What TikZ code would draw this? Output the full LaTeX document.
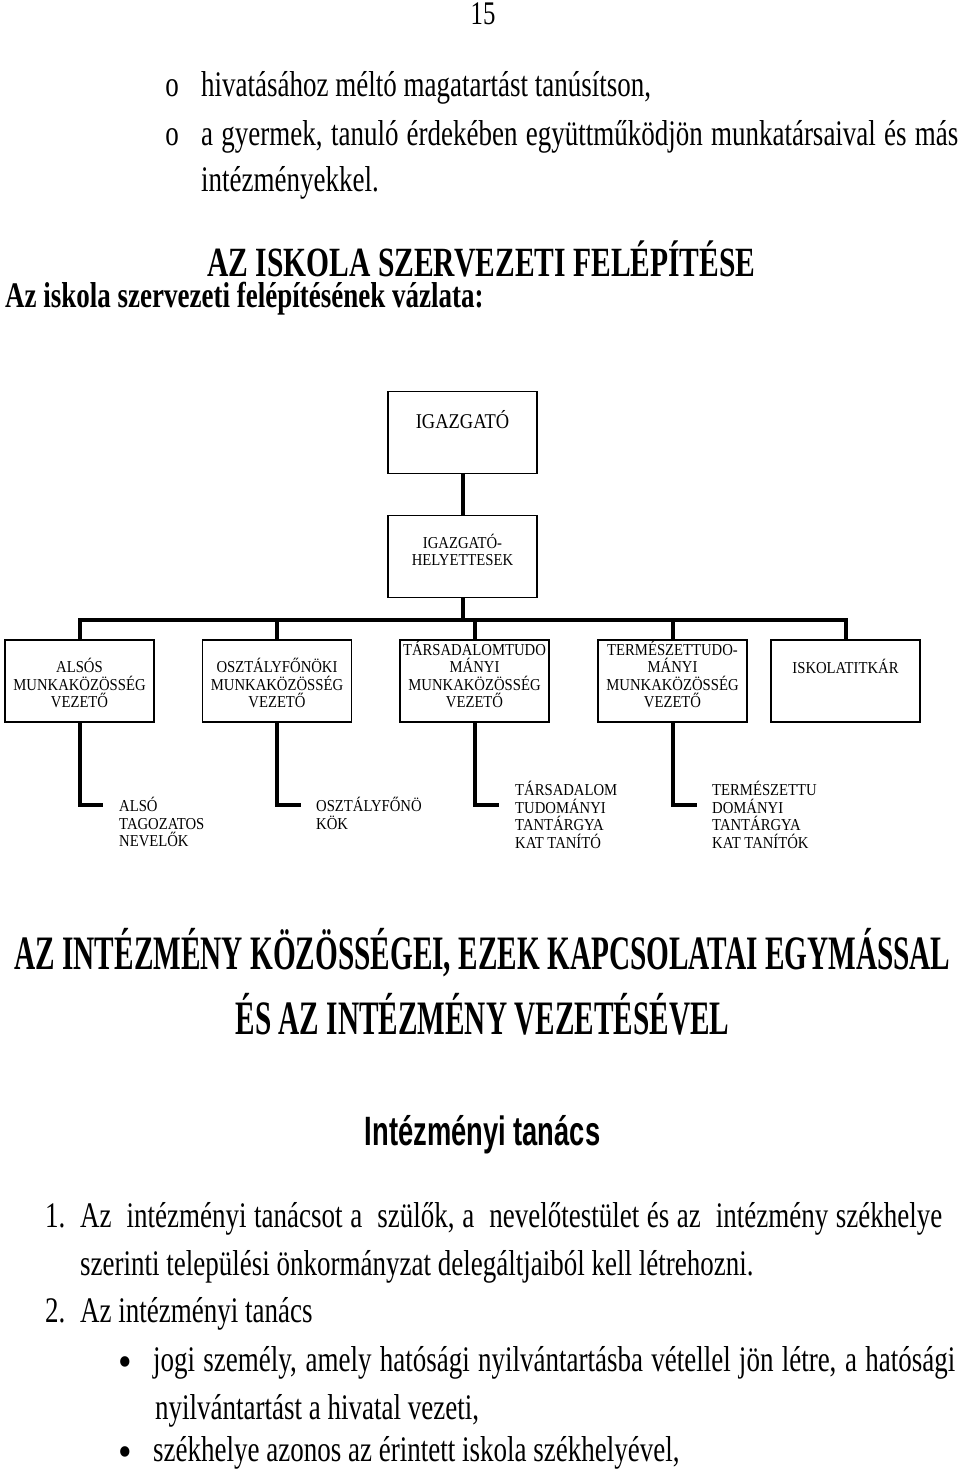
\documentclass[tikz,border=0pt]{standalone}
\usepackage{fontspec}
\setmainfont{Liberation Serif}
\newfontfamily\bodyfont[FakeStretch=0.75]{Liberation Serif}
\newfontfamily\chartfont[FakeStretch=0.88]{Liberation Serif}
\newfontfamily\headfontA[FakeStretch=0.71]{Liberation Serif}
\newfontfamily\headfontB[FakeStretch=0.61]{Liberation Serif}
\newfontfamily\tanacsfont[FakeStretch=0.667]{Liberation Sans}
\usepackage{tikz}
\usetikzlibrary{positioning, calc}

\begin{document}
\begin{tikzpicture}[x=1pt, y=-1pt,
  box/.style={draw, line width=1.5pt, minimum width=149pt, minimum height=82pt, inner sep=0pt},
  conn/.style={line width=4pt},
  chart/.style={font=\chartfont\fontsize{16.7}{17.5}\selectfont, align=center, inner sep=0pt},
  lbl/.style={font=\chartfont\fontsize{16.7}{17.5}\selectfont, align=left, anchor=west, inner sep=0pt},
  body/.style={font=\bodyfont\fontsize{36}{36}\selectfont, anchor=base west, inner sep=0pt},
  dot/.style={font=\chartfont\fontsize{44}{44}\selectfont, anchor=base, inner sep=0pt}]
\useasboundingbox (0,0) rectangle (960,1474);
\node[body, anchor=base, font=\bodyfont\fontsize{33}{33}\selectfont] (page) at (483,25) {15};
\node[body, anchor=base] (o1) at (172,97) {o};
\node[body] (line1) at (201,97) {hivatásához méltó magatartást tanúsítson,};
\node[body, anchor=base] (o2) at (172,146) {o};
\node[body] (line2) at (201,146) {\makebox[757pt][s]{a gyermek, tanuló érdekében együttműködjön munkatársaival és más}};
\node[body] (line3) at (201,192) {intézményekkel.};
\node[anchor=base, inner sep=0pt, font=\headfontA\bfseries\fontsize{41.6}{42}\selectfont] (headA) at (481.5,276) {AZ ISKOLA SZERVEZETI FELÉPÍTÉSE};
\node[body, font=\bodyfont\bfseries\fontsize{36}{36}\selectfont] (vazlat) at (5,307) {Az iskola szervezeti felépítésének vázlata:};

\node[box] (igazgato) at (462.5,432.5) {};
\node[box] (helyettes) at (462.5,556.5) {};
\node[box] (also) at (79.5,681) {};
\node[box] (ofo) at (277,681) {};
\node[box] (tars) at (474.5,681) {};
\node[box] (term) at (672.5,681) {};
\node[box] (titkar) at (845.5,681) {};
\node[chart, font=\chartfont\fontsize{21}{21}\selectfont] (igazgatoT) at (462.5,420) {IGAZGATÓ};
\node[chart] (helyettesT) at (462.5,550) {IGAZGATÓ-\\HELYETTESEK};
\node[chart] (alsoT) at (79.5,683) {ALSÓS\\MUNKAKÖZÖSSÉG\\VEZETŐ};
\node[chart] (ofoT) at (277,683) {OSZTÁLYFŐNÖKI\\MUNKAKÖZÖSSÉG\\VEZETŐ};
\node[chart] (tarsT) at (474.5,674.5) {TÁRSADALOMTUDO\\MÁNYI\\MUNKAKÖZÖSSÉG\\VEZETŐ};
\node[chart] (termT) at (672.5,674.5) {TERMÉSZETTUDO-\\MÁNYI\\MUNKAKÖZÖSSÉG\\VEZETŐ};
\node[chart] (titkarT) at (845.5,666) {ISKOLATITKÁR};

\coordinate (bus) at (462.5,620);
\draw[conn] (igazgato) -- (helyettes);
\draw[conn] (helyettes) -- (bus);
\draw[conn] (also.north) |- (bus) -| (titkar.north);
\foreach \b in {ofo,tars,term}
  \draw[conn] (\b.north) -- (\b.north |- bus);

\coordinate (alsoE) at (103,805);
\coordinate (ofoE) at (301,805);
\coordinate (tarsE) at (499,805);
\coordinate (termE) at (697,805);
\draw[conn] (also.south) |- (alsoE);
\draw[conn] (ofo.south) |- (ofoE);
\draw[conn] (tars.south) |- (tarsE);
\draw[conn] (term.south) |- (termE);
\node[lbl] (alsoL) at (119,822) {ALSÓ\\TAGOZATOS\\NEVELŐK};
\node[lbl] (ofoL) at (316,813.5) {OSZTÁLYFŐNÖ\\KÖK};
\node[lbl] (tarsL) at (515,815) {TÁRSADALOM\\TUDOMÁNYI\\TANTÁRGYA\\KAT TANÍTÓ};
\node[lbl] (termL) at (712,815) {TERMÉSZETTU\\DOMÁNYI\\TANTÁRGYA\\KAT TANÍTÓK};

\node[anchor=base, inner sep=0pt, font=\headfontB\bfseries\fontsize{48}{48}\selectfont] (headB1) at (482.5,969) {AZ INTÉZMÉNY KÖZÖSSÉGEI, EZEK KAPCSOLATAI EGYMÁSSAL};
\node[anchor=base, inner sep=0pt, font=\headfontB\bfseries\fontsize{48}{48}\selectfont] (headB2) at (482.5,1034) {ÉS AZ INTÉZMÉNY VEZETÉSÉVEL};
\node[anchor=base, inner sep=0pt, font=\tanacsfont\bfseries\fontsize{41}{41}\selectfont] (tanacs) at (482.5,1145) {Intézményi tanács};

\node[body] (n1) at (45,1227) {1.};
\node[body] (p1a) at (80,1227) {\makebox[862pt][s]{Az\ \ intézményi tanácsot a\ \ szülők, a\ \ nevelőtestület és az\ \ intézmény székhelye}};
\node[body] (p1b) at (80,1275) {szerinti települési önkormányzat delegáltjaiból kell létrehozni.};
\node[body] (n2) at (45,1322) {2.};
\node[body] (p2) at (80,1322) {Az intézményi tanács};
\node[dot] (dot1) at (125,1376) {•};
\node[body] (p3a) at (153,1371) {\makebox[802pt][s]{jogi személy, amely hatósági nyilvántartásba vétellel jön létre, a hatósági}};
\node[body] (p3b) at (155,1419) {nyilvántartást a hivatal vezeti,};
\node[dot] (dot2) at (125,1466) {•};
\node[body] (p4) at (153,1461) {székhelye azonos az érintett iskola székhelyével,};
\end{tikzpicture}
\end{document}
